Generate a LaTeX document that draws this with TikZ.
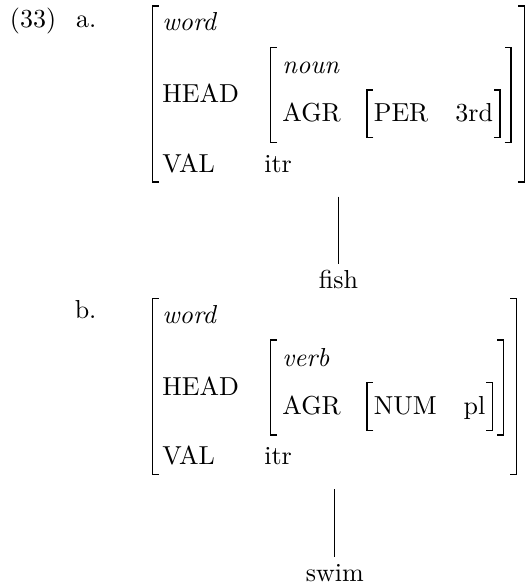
\documentclass[tikz,border=0pt]{standalone}
\usepackage{tikz}
\usetikzlibrary{positioning,fit,calc}

\newcommand{\avmbrackets}[1]{%
  \draw [brk-a] ([xshift=2.4pt]#1.south west) -- (#1.south west) -- (#1.north west) -- ++(2.4pt,0);
  \draw [brk-a] ([xshift=-2.4pt]#1.south east) -- (#1.south east) -- (#1.north east) -- ++(-2.4pt,0);}

\begin{document}
\begin{tikzpicture}
[
feat-a/.style={black, inner sep=0pt},
box-a/.style={inner sep=0pt, outer sep=0pt},
leaf-a/.style={black, inner sep=2pt, text height=7pt, text depth=0pt},
brk-a/.style={black, line width=0.45pt},
branch-a/.style={black, line width=0.4pt, shorten <=5.6pt}
]
\path [use as bounding box] (-62.3pt,11.7pt) rectangle (141.2pt,-213.7pt);

% (33) a.
\node (word-1)     [feat-a, anchor=base west] at (0,0)                                  {\textit{word}};
\node (head-1)     [feat-a, below = 27.9pt of word-1.base west, anchor=base west]       {HEAD};
\node (val-1)      [feat-a, below = 26.6pt of head-1.base west, anchor=base west]       {VAL};
\node (itr-1)      [feat-a, right = 18.65pt of val-1.base east, anchor=base west]       {itr};
\node (cat-1)      [feat-a, above right = 11.4pt and 16.3pt of head-1.base east, anchor=base west] {\textit{noun}};
\node (agr-1)      [feat-a, below = 18.6pt of cat-1.base west, anchor=base west]        {AGR};
\node (per-1)      [feat-a, right = 12.3pt of agr-1.base east, anchor=base west]        {PER};
\node (per-val-1)  [feat-a, right = 10pt of per-1.base east, anchor=base west]          {3rd};
\node (ex-1-lb)    [feat-a, above left = 1.3pt and 25pt of word-1.base west, anchor=base east] {a.};
\node (ex-num)     [feat-a, left = 7.3pt of ex-1-lb.base west, anchor=base east]        {(33)};

\coordinate (per-tl-1) at ([shift={(-2.4pt,12.2pt)}]per-1.base west);
\coordinate (per-br-1) at ([shift={(2.5pt,-6.1pt)}]per-val-1.base east);
\node (per-box-1)  [box-a, fit=(per-tl-1)(per-br-1)] {};
\coordinate (hd-tl-1) at ([shift={(-4.3pt,10pt)}]cat-1.base west);
\coordinate (hd-br-1) at ([shift={(4.2pt,-1.8pt)}]per-box-1.south east);
\node (hd-box-1)   [box-a, fit=(hd-tl-1)(hd-br-1)] {};
\coordinate (fs-tl-1) at ([shift={(-3.5pt,9.4pt)}]word-1.base west);
\coordinate (fs-br-1) at ($(hd-box-1.east |- val-1.base)+(5.1pt,-3.8pt)$);
\node (fs-1)       [box-a, fit=(fs-tl-1)(fs-br-1)] {};
\avmbrackets{per-box-1}
\avmbrackets{hd-box-1}
\avmbrackets{fs-1}

\node (leaf-1)     [leaf-a, below = 40.9pt of fs-1.south, anchor=base]                  {fish};
\draw [branch-a] (fs-1) -- (leaf-1);

% b.
\node (word-2)     [feat-a, anchor=base west] at (0,-112.6pt)                           {\textit{word}};
\node (head-2)     [feat-a, below = 27.9pt of word-2.base west, anchor=base west]       {HEAD};
\node (val-2)      [feat-a, below = 26.6pt of head-2.base west, anchor=base west]       {VAL};
\node (itr-2)      [feat-a, right = 18.65pt of val-2.base east, anchor=base west]       {itr};
\node (cat-2)      [feat-a, above right = 11.4pt and 16.3pt of head-2.base east, anchor=base west] {\textit{verb}};
\node (agr-2)      [feat-a, below = 18.6pt of cat-2.base west, anchor=base west]        {AGR};
\node (num-2)      [feat-a, right = 12.3pt of agr-2.base east, anchor=base west]        {NUM};
\node (num-val-2)  [feat-a, right = 10pt of num-2.base east, anchor=base west]          {pl};
\node (ex-2-lb)    [feat-a, above left = 1.8pt and 25pt of word-2.base west, anchor=base east] {b.};

\coordinate (num-tl-2) at ([shift={(-2.4pt,12.2pt)}]num-2.base west);
\coordinate (num-br-2) at ([shift={(2.5pt,-6.1pt)}]num-val-2.base east);
\node (num-box-2)  [box-a, fit=(num-tl-2)(num-br-2)] {};
\coordinate (hd-tl-2) at ([shift={(-4.3pt,10pt)}]cat-2.base west);
\coordinate (hd-br-2) at ([shift={(4.2pt,-1.8pt)}]num-box-2.south east);
\node (hd-box-2)   [box-a, fit=(hd-tl-2)(hd-br-2)] {};
\coordinate (fs-tl-2) at ([shift={(-3.5pt,9.4pt)}]word-2.base west);
\coordinate (fs-br-2) at ($(hd-box-2.east |- val-2.base)+(5.1pt,-3.8pt)$);
\node (fs-2)       [box-a, fit=(fs-tl-2)(fs-br-2)] {};
\avmbrackets{num-box-2}
\avmbrackets{hd-box-2}
\avmbrackets{fs-2}

\node (leaf-2)     [leaf-a, below = 40.9pt of fs-2.south, anchor=base]                  {swim};
\draw [branch-a] (fs-2) -- (leaf-2);
\end{tikzpicture}
\end{document}
